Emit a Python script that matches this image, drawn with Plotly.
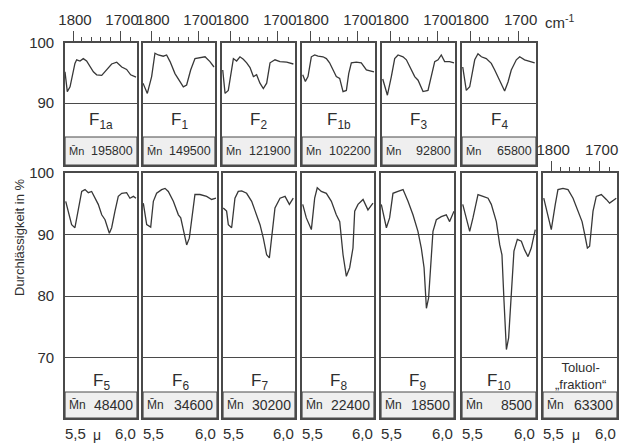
import plotly.graph_objects as go

# ---------------- data (wavelength in micrometre, transmittance in %) ----------------
wl_F1a = [5.500,5.516,5.535,5.569,5.581,5.604,5.627,5.650,5.697,5.720,5.755,5.789,5.824,5.859,5.894,5.928,5.956,5.993]
tr_F1a = [95.2,91.9,92.7,96.6,97.2,97.0,97.4,97.0,95.2,94.7,94.6,95.5,96.5,96.8,96.0,95.6,94.7,94.3]

wl_F1 = [5.500,5.530,5.560,5.583,5.606,5.641,5.664,5.688,5.722,5.757,5.780,5.803,5.831,5.861,5.896,5.931,5.965,5.993]
tr_F1 = [93.3,91.6,94.4,98.3,98.0,97.8,98.0,96.9,94.9,93.5,92.7,93.0,95.5,97.4,97.6,97.7,96.9,96.0]

wl_F2 = [5.505,5.521,5.543,5.566,5.578,5.600,5.623,5.646,5.669,5.692,5.715,5.737,5.760,5.783,5.806,5.829,5.863,5.897,5.943,5.989]
tr_F2 = [95.5,91.6,92.1,96.0,97.4,97.0,97.7,97.3,96.7,95.9,94.4,94.7,93.3,92.4,93.3,96.7,97.2,96.9,96.8,96.5]

wl_F1b = [5.505,5.523,5.541,5.564,5.587,5.610,5.644,5.667,5.689,5.712,5.735,5.758,5.781,5.804,5.820,5.838,5.872,5.906,5.941,5.993]
tr_F1b = [94.7,93.6,94.4,97.7,98.0,97.8,97.7,97.4,96.7,95.5,94.4,94.1,91.9,92.1,94.9,96.7,96.8,96.7,95.5,95.2]

wl_F3 = [5.505,5.537,5.564,5.587,5.610,5.644,5.667,5.701,5.724,5.747,5.781,5.815,5.838,5.861,5.884,5.906,5.929,5.963,5.993]
tr_F3 = [94.0,91.3,94.4,97.4,98.0,97.7,97.2,95.5,94.4,93.8,91.9,92.1,94.4,96.9,97.2,98.0,96.9,96.9,96.7]

wl_F4 = [5.505,5.529,5.552,5.586,5.608,5.631,5.664,5.698,5.721,5.743,5.766,5.788,5.811,5.833,5.867,5.890,5.923,5.957,5.991]
tr_F4 = [96.0,92.1,92.7,97.2,98.2,97.7,97.4,96.6,95.5,94.4,93.0,92.0,93.5,95.5,97.2,97.7,97.2,96.9,96.7]

wl_F5 = [5.505,5.523,5.546,5.569,5.593,5.616,5.639,5.662,5.685,5.708,5.731,5.755,5.778,5.808,5.824,5.847,5.870,5.894,5.928,5.951,5.975,5.993]
tr_F5 = [95.4,93.8,91.6,91.1,94.3,97.0,97.3,96.8,97.0,95.9,94.9,93.2,92.4,90.2,91.1,93.8,96.2,96.7,96.8,95.9,96.2,95.9]

wl_F6 = [5.502,5.525,5.552,5.570,5.592,5.626,5.649,5.671,5.705,5.739,5.755,5.773,5.795,5.813,5.829,5.851,5.885,5.930,5.964,5.993]
tr_F6 = [95.1,91.6,91.2,95.4,96.7,97.3,97.5,97.0,95.4,93.2,92.7,90.5,88.3,89.4,92.7,96.5,96.5,96.2,95.7,95.9]

wl_F7 = [5.502,5.525,5.537,5.560,5.583,5.606,5.630,5.664,5.699,5.734,5.757,5.780,5.803,5.822,5.838,5.861,5.896,5.931,5.961,5.988]
tr_F7 = [94.3,93.8,91.6,91.1,95.9,97.0,97.1,96.7,95.4,93.2,91.6,89.4,86.7,86.2,90.0,94.3,95.9,96.2,94.9,95.9]

wl_F8 = [5.505,5.530,5.565,5.588,5.606,5.634,5.669,5.704,5.738,5.762,5.785,5.808,5.831,5.854,5.866,5.889,5.924,5.958,5.993]
tr_F8 = [94.9,92.7,90.8,95.9,97.6,97.0,96.7,95.4,93.2,92.1,86.7,83.2,84.6,87.8,93.8,94.9,95.7,94.0,95.1]

wl_F9 = [5.502,5.537,5.559,5.582,5.616,5.651,5.685,5.719,5.753,5.776,5.795,5.811,5.826,5.840,5.856,5.879,5.913,5.947,5.970,6.000]
tr_F9 = [94.9,91.1,92.7,96.7,97.0,97.3,95.4,93.2,90.5,87.8,84.6,78.0,79.7,85.6,90.5,92.4,92.9,93.2,92.1,93.8]

wl_F10 = [5.505,5.529,5.552,5.574,5.608,5.642,5.676,5.698,5.732,5.755,5.770,5.784,5.800,5.815,5.833,5.851,5.874,5.901,5.923,5.946,5.968,5.995]
tr_F10 = [94.9,92.7,90.5,92.7,96.5,96.2,95.9,94.9,92.1,88.3,86.7,79.1,71.3,73.2,79.7,87.3,89.2,88.9,87.5,86.4,87.8,90.8]

wl_Tol = [5.505,5.534,5.556,5.583,5.601,5.635,5.669,5.703,5.736,5.764,5.782,5.800,5.815,5.838,5.860,5.894,5.928,5.950,5.995]
tr_Tol = [95.9,92.7,90.8,94.9,97.3,97.5,97.3,95.9,93.8,92.1,90.0,87.8,88.1,93.8,96.2,96.5,95.7,95.1,95.9]

top_names = ["F<sub>1a</sub>", "F<sub>1</sub>", "F<sub>2</sub>", "F<sub>1b</sub>", "F<sub>3</sub>", "F<sub>4</sub>"]
top_mn = ["195800", "149500", "121900", "102200", "92800", "65800"]
bot_names = ["F<sub>5</sub>", "F<sub>6</sub>", "F<sub>7</sub>", "F<sub>8</sub>", "F<sub>9</sub>", "F<sub>10</sub>", "Toluol-<br>\u201efraktion\u201c"]
bot_mn = ["48400", "34600", "30200", "22400", "18500", "8500", "63300"]

wn_major = [1800, 1700]
wn_minor = [1780, 1760, 1740, 1720, 1680]
wn_labels = ["1800", "1700"]
y_top_ticks = [100, 90]
y_bot_ticks = [100, 90, 80, 70]

# ---------------- layout geometry (pixels) ----------------
W, H = 636, 448
FONT = "Liberation Sans, Arial, sans-serif"
INK = "#2e2e2e"
LINE = "#4a4a4a"

top_wl = [wl_F1a, wl_F1, wl_F2, wl_F1b, wl_F3, wl_F4]
top_tr = [tr_F1a, tr_F1, tr_F2, tr_F1b, tr_F3, tr_F4]
bot_wl = [wl_F5, wl_F6, wl_F7, wl_F8, wl_F9, wl_F10, wl_Tol]
bot_tr = [tr_F5, tr_F6, tr_F7, tr_F8, tr_F9, tr_F10, tr_Tol]

top_px = [(65, 137), (143, 215), (222, 295), (302, 375), (382, 455), (462, 536)]
bot_px = [(65, 137), (143, 217), (223, 295), (302, 374), (381, 454), (462, 536), (543, 617)]

TOP_Y = (43, 165)
BOT_Y = (173, 418)
top_range = [100 - (TOP_Y[1] - TOP_Y[0]) / 6.0, 100]
bot_range = [100 - (BOT_Y[1] - BOT_Y[0]) / 6.15, 100]


def px(p):
    return p / W


def py(p):
    return 1 - p / H


def ann(text, x, y, size, xanchor="center", xref="paper", **kw):
    d = dict(text=text, x=x, y=y, xref=xref, yref="paper", xanchor=xanchor,
             yanchor="middle", showarrow=False, font=dict(size=size, color=INK, family=FONT))
    d.update(kw)
    return d


panels = []
for k in range(6):
    panels.append(dict(wl=top_wl[k], tr=top_tr[k], name=top_names[k], mn=top_mn[k],
                       xp=top_px[k], row="top", wn=True, first=(k == 0)))
for k in range(7):
    panels.append(dict(wl=bot_wl[k], tr=bot_tr[k], name=bot_names[k], mn=bot_mn[k],
                       xp=bot_px[k], row="bot", wn=(k == 6), first=(k == 0)))

fig = go.Figure()
layout = dict(width=W, height=H, margin=dict(l=0, r=0, t=0, b=0, pad=0, autoexpand=False),
              paper_bgcolor="white", plot_bgcolor="white", showlegend=False,
              font=dict(family=FONT, color=INK))
annotations = []
shapes = []

for i, p in enumerate(panels, start=1):
    xs = "x" if i == 1 else f"x{i}"
    ys = "y" if i == 1 else f"y{i}"
    xa = "xaxis" if i == 1 else f"xaxis{i}"
    ya = "yaxis" if i == 1 else f"yaxis{i}"
    top = p["row"] == "top"
    ydom = TOP_Y if top else BOT_Y
    yr = top_range if top else bot_range
    x0, x1 = p["xp"]

    fig.add_trace(go.Scatter(x=p["wl"], y=p["tr"], mode="lines", xaxis=xs, yaxis=ys,
                             line=dict(color="#383838", width=1.3), hoverinfo="skip"))

    xdict = dict(domain=[px(x0), px(x1)], range=[5.5, 6.0], anchor=ys, automargin=False,
                 showline=True, mirror=True, linecolor=LINE, linewidth=1.6,
                 showgrid=False, zeroline=False, fixedrange=True)
    if p["wn"]:
        xdict.update(side="top", tickmode="array",
                     tickvals=[1e4 / w for w in wn_major], ticktext=wn_labels,
                     ticks="outside", ticklen=10, tickwidth=1.2, tickcolor=LINE,
                     showticklabels=True, tickfont=dict(size=15, color=INK),
                     ticklabelshift=2,
                     minor=dict(tickmode="array", tickvals=[1e4 / w for w in wn_minor],
                                ticks="outside", ticklen=4, tickwidth=1, tickcolor=LINE))
    else:
        xdict.update(ticks="", showticklabels=False)
    layout[xa] = xdict

    ticks_y = y_top_ticks if top else y_bot_ticks
    layout[ya] = dict(domain=[py(ydom[1]), py(ydom[0])], range=yr, anchor=xs, automargin=False,
                      showline=True, mirror=True, linecolor=LINE, linewidth=1.6,
                      tickmode="array", tickvals=ticks_y,
                      showgrid=True, gridcolor=LINE, gridwidth=1.3, zeroline=False,
                      ticks="", showticklabels=p["first"], tickfont=dict(size=15, color=INK),
                      ticklabelstandoff=6, fixedrange=True)

    # M_n box
    box_top = 137 if top else 392
    shapes.append(dict(type="rect", xref="paper", yref="paper",
                       x0=px(x0), x1=px(x1), y0=py(ydom[1]), y1=py(box_top),
                       fillcolor="#efefef", line=dict(color=LINE, width=1.2), layer="below"))

    # labels
    cx = px((x0 + x1) / 2)
    if top:
        annotations.append(ann(p["name"], cx, py(121), 17))
        mny = py(151)
        mn_size, num_size = 11, 12.5
    else:
        if p["name"].startswith("Toluol"):
            annotations.append(ann(p["name"], cx, py(376), 13))
        else:
            annotations.append(ann(p["name"], cx, py(382), 17))
        mny = py(405)
        mn_size, num_size = 12, 14
    annotations.append(ann("M\u0304n", px(x0 + 2), mny, mn_size, xanchor="left"))
    annotations.append(ann(p["mn"], px(x1 - 2), mny, num_size, xanchor="right"))

    if not top:
        annotations.append(ann("5,5", 5.5, py(433), 15, xanchor="left", xref=xs, xshift=-2))
        annotations.append(ann("6,0", 6.0, py(433), 15, xanchor="right", xref=xs, xshift=1))
        if p["first"] or p["wn"]:
            annotations.append(ann("\u03bc", 5.72, py(435), 14, xref=xs))

annotations.append(ann("cm<sup>-1</sup>", px(543), py(21), 15, xanchor="left"))
annotations.append(ann("Durchl\u00e4ssigkeit in %", px(19), py(238), 13, textangle=-90))

layout["annotations"] = annotations
layout["shapes"] = shapes
fig.update_layout(**layout)
fig.write_html("out.html")
